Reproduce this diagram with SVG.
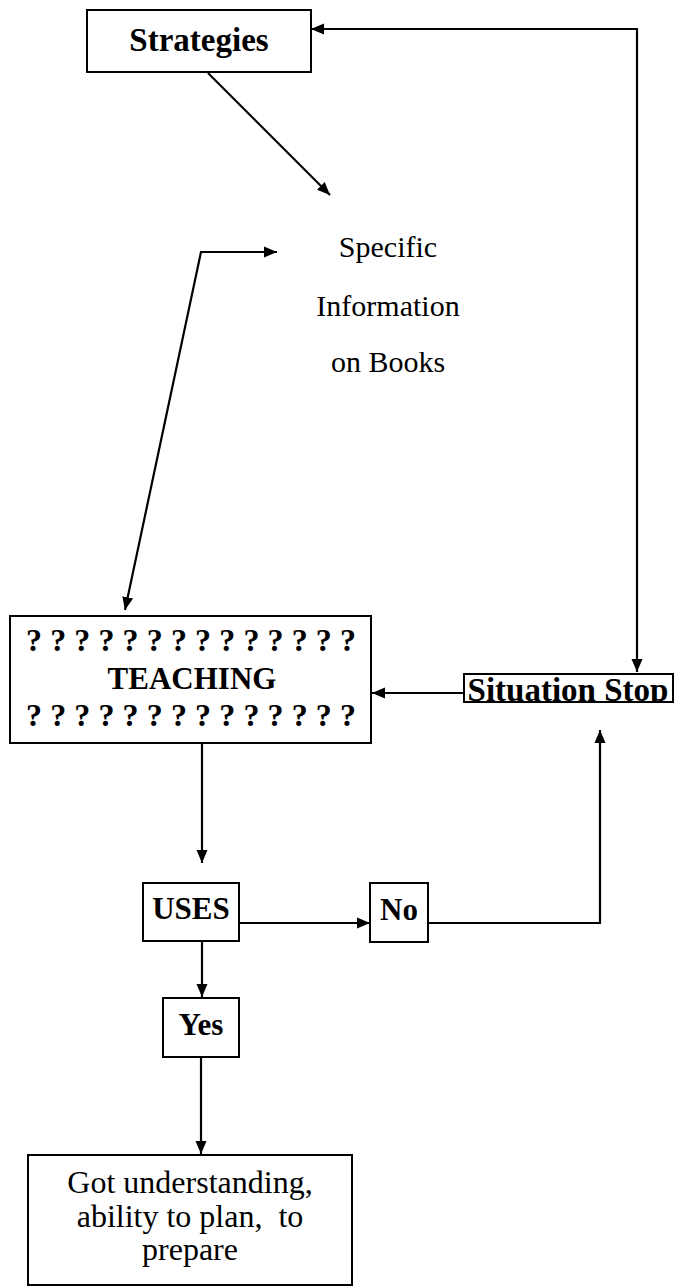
<svg xmlns="http://www.w3.org/2000/svg" width="677" height="1288" viewBox="0 0 677 1288">
<style>
.box{fill:#fff;stroke:#000;stroke-width:2}
.b{font-family:"Liberation Serif","Times New Roman",serif;font-weight:bold;fill:#000;text-anchor:middle}
.r{font-family:"Liberation Serif","Times New Roman",serif;fill:#000;text-anchor:middle}
.c{fill:none;stroke:#000;stroke-width:2.2}
</style>
<defs>
<marker id="ah" markerUnits="userSpaceOnUse" markerWidth="14" markerHeight="14" refX="13" refY="7" orient="auto-start-reverse">
<path d="M0,1.5 L13,7 L0,12.5 z" fill="#000"/>
</marker>
<clipPath id="sclip"><rect x="464" y="674" width="209" height="28"/></clipPath>
</defs>
<rect width="677" height="1288" fill="#fff"/>
<g id="connectors">
<path class="c" d="M637,672 L637,29 L311,29" marker-start="url(#ah)" marker-end="url(#ah)"/>
<path class="c" d="M208,73 L330,195" marker-end="url(#ah)"/>
<path class="c" d="M277,252 L201,252 L125,610" marker-start="url(#ah)" marker-end="url(#ah)"/>
<path class="c" d="M464,693 L372,693" marker-end="url(#ah)"/>
<path class="c" d="M202,743 L202,863" marker-end="url(#ah)"/>
<path class="c" d="M239,923 L370,923" marker-end="url(#ah)"/>
<path class="c" d="M428,923 L600,923 L600,730" marker-end="url(#ah)"/>
<path class="c" d="M202,942 L202,997" marker-end="url(#ah)"/>
<path class="c" d="M201,1057 L201,1154" marker-end="url(#ah)"/>
</g>
<g id="strategies">
<rect class="box" x="87" y="10" width="224" height="62"/>
<text class="b" x="199" y="51" font-size="33">Strategies</text>
</g>
<g id="specific">
<text class="r" x="388" y="257" font-size="30">Specific</text>
<text class="r" x="388" y="316" font-size="30">Information</text>
<text class="r" x="388" y="372" font-size="30">on Books</text>
</g>
<g id="teaching">
<rect class="box" x="10" y="616" width="361" height="127"/>
<text class="b" x="191" y="651" font-size="32" textLength="330" lengthAdjust="spacing">? ? ? ? ? ? ? ? ? ? ? ? ? ?</text>
<text class="b" x="192" y="689" font-size="31">TEACHING</text>
<text class="b" x="191" y="726" font-size="32" textLength="330" lengthAdjust="spacing">? ? ? ? ? ? ? ? ? ? ? ? ? ?</text>
</g>
<g id="situation">
<rect class="box" x="464" y="674" width="209" height="28"/>
<text class="b" x="568" y="701" font-size="33" clip-path="url(#sclip)">Situation Stop</text>
</g>
<g id="uses">
<rect class="box" x="143" y="883" width="96" height="58"/>
<text class="b" x="191" y="919" font-size="31">USES</text>
</g>
<g id="no">
<rect class="box" x="370" y="883" width="58" height="59"/>
<text class="b" x="399" y="920" font-size="31">No</text>
</g>
<g id="yes">
<rect class="box" x="163" y="998" width="76" height="59"/>
<text class="b" x="201" y="1035" font-size="31">Yes</text>
</g>
<g id="result">
<rect class="box" x="28" y="1155" width="324" height="130"/>
<text class="r" x="190" y="1193" font-size="32">Got understanding,</text>
<text class="r" x="190" y="1227" font-size="32" xml:space="preserve">ability to plan,  to</text>
<text class="r" x="190" y="1260" font-size="32">prepare</text>
</g>
</svg>
